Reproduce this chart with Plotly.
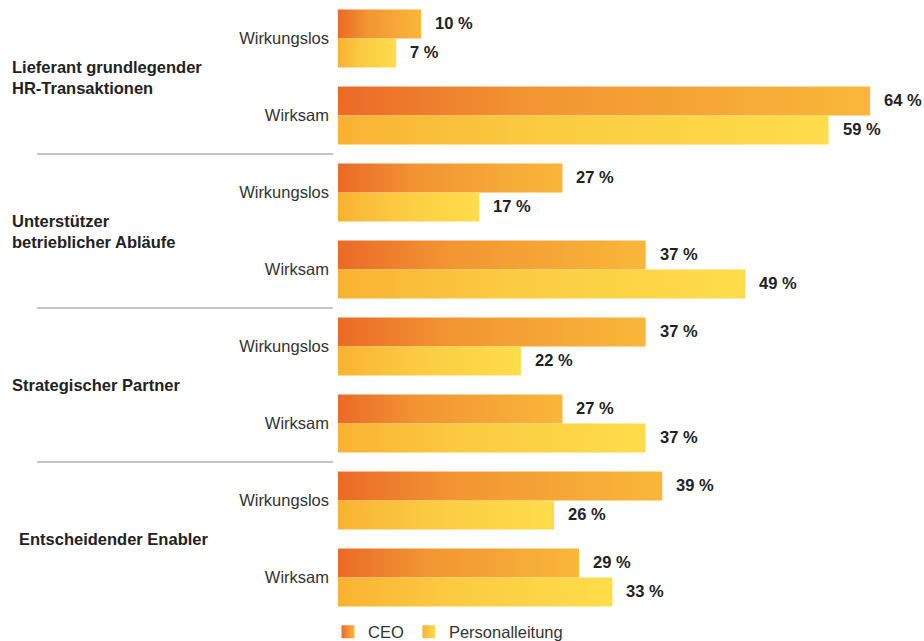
import plotly.graph_objects as go

# ---- data ----
groups = ["Lieferant grundlegender<br>HR-Transaktionen",
          "Unterstützer<br>betrieblicher Abläufe",
          "Strategischer Partner",
          "Entscheidender Enabler"]
sub_labels = ["Wirkungslos", "Wirksam"]
ceo = [10, 64, 27, 37, 37, 27, 39, 29]
personal = [7, 59, 17, 49, 22, 37, 26, 33]
series_names = ["CEO", "Personalleitung"]

# ---- style ----
FONT = "Liberation Sans, Arial, sans-serif"
FS = 16.5
ceo_scale = [[0, "#EA6A27"], [0.35, "#F29432"], [1, "#F9B73A"]]
pl_scale = [[0, "#F9B233"], [0.4, "#FBCA41"], [1, "#FEDD4B"]]
H = 0.377  # bar thickness in category units

cats = list(range(len(ceo)))
ticktext = [sub_labels[i % 2] for i in cats]

fig = go.Figure()

def add_bar(val, y0, y1, scale, group):
    fig.add_trace(go.Scatter(
        x=[0, val, val, 0, 0], y=[y0, y0, y1, y1, y0],
        mode="none", fill="toself",
        fillgradient=dict(type="horizontal", colorscale=scale),
        showlegend=False, legendgroup=group, hoverinfo="skip"))

for i in cats:
    add_bar(ceo[i], i - H, i, ceo_scale, "ceo")
    add_bar(personal[i], i, i + H, pl_scale, "pl")

# legend entries
fig.add_trace(go.Scatter(x=[None], y=[None], mode="markers", name=series_names[0],
                         legendgroup="ceo",
                         marker=dict(symbol="square", size=13, color="#EA6A27",
                                     gradient=dict(type="horizontal", color="#F9B73A"))))
fig.add_trace(go.Scatter(x=[None], y=[None], mode="markers", name=series_names[1],
                         legendgroup="pl",
                         marker=dict(symbol="square", size=13, color="#F9B233",
                                     gradient=dict(type="horizontal", color="#FEDD4B"))))

# value labels
for i in cats:
    for v, yc in ((ceo[i], i - H / 2), (personal[i], i + H / 2)):
        fig.add_annotation(x=v, y=yc, xref="x", yref="y", text=f"<b>{v} %</b>",
                           showarrow=False, xanchor="left", yanchor="middle", xshift=12,
                           yshift=1,
                           font=dict(family=FONT, size=FS, color="#222222"))

# group labels
L, W = 338, 582
for g, name in enumerate(groups):
    px = 17 if g == 3 else 10
    fig.add_annotation(x=(px - L) / W, y=2 * g + 0.5, xref="paper", yref="y",
                       text=f"<b>{name}</b>", showarrow=False, align="left",
                       xanchor="left", yanchor="middle",
                       font=dict(family=FONT, size=FS, color="#222222"))

# separators
for g in range(1, len(groups)):
    fig.add_shape(type="line", xref="paper", yref="y",
                  x0=(37 - L) / W, x1=(333 - L) / W, y0=2 * g - 0.5, y1=2 * g - 0.5,
                  line=dict(color="#8c8c8c", width=1.2))

fig.update_layout(
    width=924, height=641,
    margin=dict(l=L, r=924 - L - W, t=0, b=25, autoexpand=False),
    paper_bgcolor="white", plot_bgcolor="white",
    font=dict(family=FONT, size=FS, color="#333333"),
    showlegend=True,
    legend=dict(orientation="h", x=-10 / W, xanchor="left", y=-(632 - 616) / 616,
                yanchor="middle", font=dict(family=FONT, size=FS, color="#333333"),
                itemwidth=30, traceorder="normal"),
    xaxis=dict(range=[0, 70], visible=False, fixedrange=True),
    yaxis=dict(range=[7.5, -0.5], tickmode="array", tickvals=cats, ticktext=ticktext,
               showgrid=False, zeroline=False, showline=False, ticks="",
               ticklabelstandoff=8, fixedrange=True,
               tickfont=dict(family=FONT, size=FS, color="#333333")),
)

fig.write_html("out.html")
